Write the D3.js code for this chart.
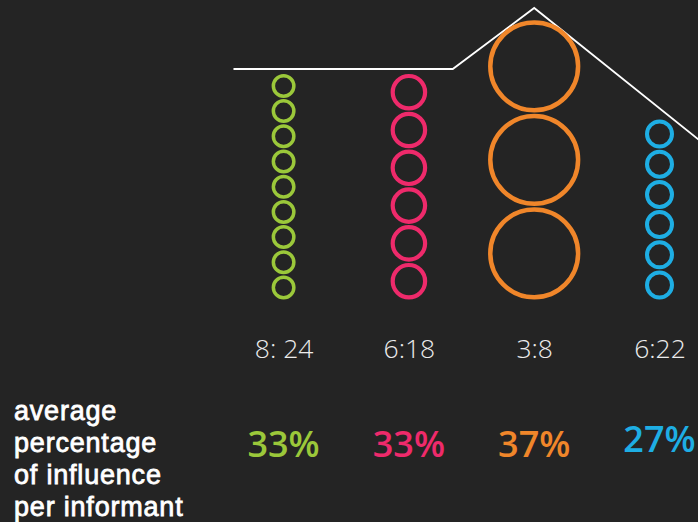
<!DOCTYPE html>
<html>
<head>
<meta charset="utf-8">
<script src="https://cdn.jsdelivr.net/npm/d3@7"></script>
<style>
	html, body { margin: 0; padding: 0; background: #242424; }
	svg { display: block; }
</style>
</head>
<body>
<svg width="698" height="522"></svg>
<script>
// ratio labels under each column
var categories = ["8: 24", "6:18", "3:8", "6:22"];
// number of rings drawn in each column
var circleCounts = [9, 6, 3, 6];
// ring radius
var circleRadius = [10.25, 16.2, 43.9, 12.5];
// average percentage of influence per informant
var influence = [33, 33, 37, 27];
// roof outline, x in column units, y in height units
var roofX = [-0.4, 1.35, 2, 3.4];
var roofY = [230.5, 230.5, 291.5, 151];
var leftLines = ["average", "percentage", "of influence", "per informant"];

var colors = ["#9bc83a", "#ee2a6b", "#f0862a", "#1eaee4"];
var strokes = [3.5, 4.2, 4.5, 4];
var gap = 1.2;

var svg = d3.select("svg");

svg.append("rect")
	.attr("width", 698)
	.attr("height", 522)
	.attr("fill", "#242424");

var x = d3.scaleLinear()
	.domain([0, 3])
	.range([283.6, 659.5]);

var xBand = d3.scalePoint()
	.domain(categories)
	.range([283.6, 659.5]);

var y = d3.scaleLinear()
	.domain([0, 300])
	.range([299.5, -0.5]);

// roof line
var roof = d3.line()
	.x(function(d) { return x(d[0]); })
	.y(function(d) { return y(d[1]); });

svg.append("path")
	.datum(d3.zip(roofX, roofY))
	.attr("fill", "none")
	.attr("stroke", "#ffffff")
	.attr("stroke-width", 1.8)
	.attr("stroke-linejoin", "miter")
	.attr("d", roof);

// rings, stacked from the bottom
var rings = [];
categories.forEach(function(c, i) {
	var r = circleRadius[i], sw = strokes[i];
	for (var k = 0; k < circleCounts[i]; k++) {
		rings.push({cat: c, i: i, r: r, sw: sw,
			h: r + sw / 2 + k * (2 * r + sw + gap)});
	}
});

svg.append("g")
	.selectAll("circle")
	.data(rings)
	.join("circle")
	.attr("cx", function(d) { return xBand(d.cat); })
	.attr("cy", function(d) { return y(d.h); })
	.attr("r", function(d) { return d.r; })
	.attr("fill", "none")
	.attr("stroke", function(d) { return colors[d.i]; })
	.attr("stroke-width", function(d) { return d.sw; });

// ratio labels
var axis = svg.append("g")
	.attr("transform", "translate(0,333)")
	.call(d3.axisBottom(xBand).tickSize(0).tickPadding(0));
axis.select(".domain").remove();
axis.selectAll("text")
	.attr("dy", "0.95em")
	.attr("font-family", "'Open Sans', sans-serif")
	.attr("font-weight", 300)
	.attr("font-size", 26.5)
	.attr("fill", "#ececec");

// percentages
svg.append("g")
	.selectAll("text")
	.data(influence)
	.join("text")
	.attr("x", function(d, i) { return xBand(categories[i]); })
	.attr("y", function(d, i) { return i === 3 ? 452 : 456.5; })
	.attr("text-anchor", "middle")
	.attr("font-family", "'Open Sans', sans-serif")
	.attr("font-weight", 600)
	.attr("font-size", 36)
	.attr("fill", function(d, i) { return colors[i]; })
	.text(function(d) { return d + "%"; });

// left caption
svg.append("g")
	.selectAll("text")
	.data(leftLines)
	.join("text")
	.attr("x", 14)
	.attr("y", function(d, i) { return 420 + i * 32; })
	.attr("font-family", "'Liberation Sans', Arial, sans-serif")
	.attr("font-size", 27)
	.attr("letter-spacing", 0.8)
	.attr("fill", "#ffffff")
	.attr("stroke", "#ffffff")
	.attr("stroke-width", 0.8)
	.text(function(d) { return d; });
</script>
</body>
</html>
